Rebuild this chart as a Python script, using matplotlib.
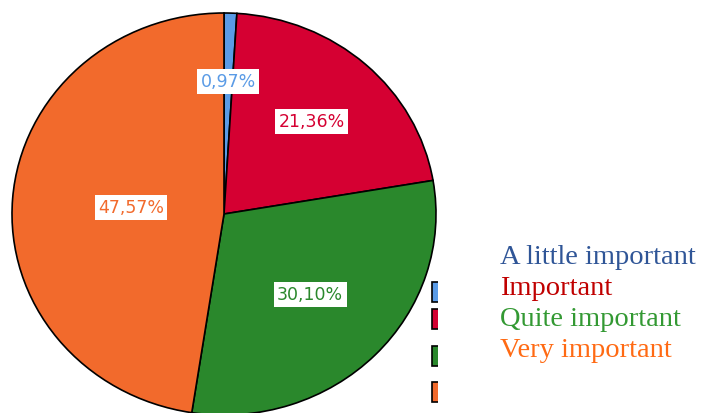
import numpy as np
import matplotlib.pyplot as plt
from matplotlib.patches import Rectangle

# ── data ──────────────────────────────────────────────────────────────────────
categories = ["A little important", "Important", "Quite important", "Very important"]
shares = [0.97, 21.36, 30.10, 47.57]
pct_labels = ["0,97%", "21,36%", "30,10%", "47,57%"]

# ── styling ───────────────────────────────────────────────────────────────────
slice_colors = ["#5a9be6", "#d50032", "#2a882c", "#f26a2c"]
text_colors = ["#2f5597", "#c00000", "#339933", "#ff6a13"]
label_dist = [0.66, 0.62, 0.57, 0.44]   # radial position of each % box

W, H = 702, 414
fig = plt.figure(figsize=(W / 100, H / 100), dpi=100)

# pie axes: centre (224, 215) px from top-left, slightly stretched horizontally
cx, cy, rx, ry = 224, 215, 212, 201
ax = fig.add_axes([(cx - rx) / W, (H - cy - ry) / H, 2 * rx / W, 2 * ry / H])

wedges, _ = ax.pie(
    shares, colors=slice_colors, startangle=90, counterclock=False,
    radius=1, wedgeprops=dict(edgecolor="black", linewidth=1.2),
)
ax.set_aspect("auto")
ax.set_xlim(-1, 1)
ax.set_ylim(-1, 1)
ax.axis("off")
for w in wedges:
    w.set_clip_on(False)

for w, lab, col, d in zip(wedges, pct_labels, slice_colors, label_dist):
    ang = np.deg2rad((w.theta1 + w.theta2) / 2)
    ax.text(d * np.cos(ang), d * np.sin(ang), lab, color=col, fontsize=12.5,
            ha="center", va="center", family="DejaVu Sans",
            bbox=dict(boxstyle="square,pad=0.2", facecolor="white", edgecolor="none"))

# clipped legend swatches next to the pie
for i, col in enumerate(slice_colors):
    y_top = [283, 310, 347, 383][i]
    fig.patches.append(Rectangle((432 / W, (H - y_top - 20) / H), 12 / W, 20 / H,
                                 transform=fig.transFigure, facecolor=col,
                                 edgecolor="black", linewidth=1.2, zorder=3))
fig.patches.append(Rectangle((438 / W, 0), 40 / W, 1,
                             transform=fig.transFigure, facecolor="white",
                             edgecolor="none", zorder=4))

# coloured text legend
for i, (name, col) in enumerate(zip(categories, text_colors)):
    fig.text(500 / W, 1 - (258 + 31 * i) / H, name, color=col, fontsize=20.5,
             family="Liberation Serif", ha="left", va="center")

fig.savefig("out.png", dpi=100)
